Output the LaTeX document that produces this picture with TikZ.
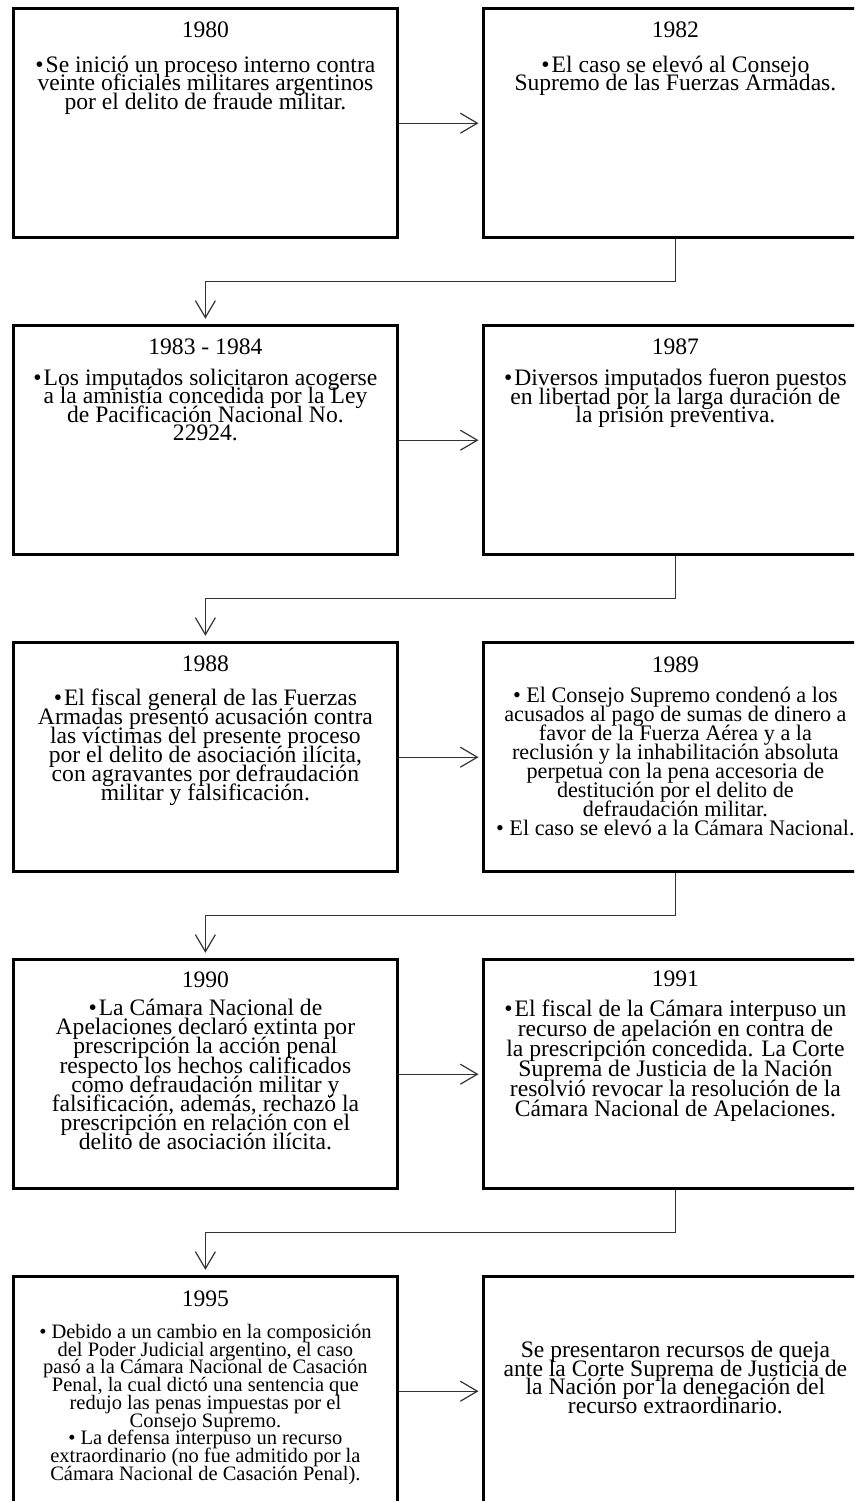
\documentclass[tikz,border=0pt]{standalone}
\usepackage{fontspec}
\setmainfont{Liberation Serif}
\usetikzlibrary{arrows.meta,calc}
\tikzset{
  panel/.style={draw=black, line width=2.8pt, minimum width=384pt, minimum height=229pt,
    inner sep=0pt, anchor=north west},
  yearlbl/.style={anchor=base, inner sep=0pt, font=\fontsize{23.6}{18.5}\selectfont},
  bodytxt/.style n args={2}{anchor=north, inner sep=0pt, align=center,
    font=\fontsize{#1}{#2}\selectfont},
  link/.style={draw=black!80, line width=1.2pt, -{Straight Barb[length=17pt,width=20pt]}},
}
\newcommand{\fl}{\rule{0pt}{17pt}}
\newcommand{\bul}{•\kern2pt}
\begin{document}
\begin{tikzpicture}[x=1pt, y=-1pt]
\lineskiplimit=-50pt
\lineskip=0pt
\useasboundingbox (0,0) rectangle (854,1501);
\clip (0,0) rectangle (854,1501);

% panels: two columns, five rows
\node[panel] (b1)  at (12,7.3)    {};
\node[panel] (b2)  at (482,7.3)   {};
\node[panel] (b3)  at (12,324.3)  {};
\node[panel] (b4)  at (482,324.3) {};
\node[panel] (b5)  at (12,641.3)  {};
\node[panel] (b6)  at (482,641.3) {};
\node[panel] (b7)  at (12,958.3)  {};
\node[panel] (b8)  at (482,958.3) {};
\node[panel] (b9)  at (12,1275.3) {};
\node[panel] (b10) at (482,1275.3) {};

% years
\node[yearlbl] (y1) at ($(b1.north)+(0,30)$) {1980};
\node[yearlbl] (y2) at ($(b2.north)+(0,30)$) {1982};
\node[yearlbl] (y3) at ($(b3.north)+(0,30)$) {1983 - 1984};
\node[yearlbl] (y4) at ($(b4.north)+(0,30)$) {1987};
\node[yearlbl] (y5) at ($(b5.north)+(0,30.5)$) {1988};
\node[yearlbl] (y6) at ($(b6.north)+(0,31.5)$) {1989};
\node[yearlbl] (y7) at ($(b7.north)+(0,29)$) {1990};
\node[yearlbl] (y8) at ($(b8.north)+(0,28.5)$) {1991};
\node[yearlbl] (y9) at ($(b9.north)+(0,31.5)$) {1995};

% texts
\node[bodytxt={23.6}{18.5}] (t1) at ($(b1.north)+(0,48)$)
  {\fl\bul Se inició un proceso interno contra\\
   veinte oficiales militares argentinos\\
   por el delito de fraude militar.};
\node[bodytxt={23.6}{18.5}] (t2) at ($(b2.north)+(0,48)$)
  {\fl\bul El caso se elevó al Consejo\\
   Supremo de las Fuerzas Armadas.};
\node[bodytxt={23.6}{18.3}] (t3) at ($(b3.north)+(0,44)$)
  {\fl\bul Los imputados solicitaron acogerse\\
   a la amnistía concedida por la Ley\\
   de Pacificación Nacional No.\\
   22924.};
\node[bodytxt={23.6}{18.5}] (t4) at ($(b4.north)+(0,44)$)
  {\fl\bul Diversos imputados fueron puestos\\
   en libertad por la larga duración de\\
   la prisión preventiva.};
\node[bodytxt={23.6}{19}] (t5) at ($(b5.north)+(0,47)$)
  {\fl\bul El fiscal general de las Fuerzas\\
   Armadas presentó acusación contra\\
   las víctimas del presente proceso\\
   por el delito de asociación ilícita,\\
   con agravantes por defraudación\\
   militar y falsificación.};
\node[bodytxt={22.2}{19}] (t6) at ($(b6.north)+(0,44)$)
  {\fl• El Consejo Supremo condenó a los\\
   acusados al pago de sumas de dinero a\\
   favor de la Fuerza Aérea y a la\\
   reclusión y la inhabilitación absoluta\\
   perpetua con la pena accesoria de\\
   destitución por el delito de\\
   defraudación militar.\\
   • El caso se elevó a la Cámara Nacional.};
\node[bodytxt={23.6}{19.2}] (t7) at ($(b7.north)+(0,40)$)
  {\fl\bul La Cámara Nacional de\\
   Apelaciones declaró extinta por\\
   prescripción la acción penal\\
   respecto los hechos calificados\\
   como defraudación militar y\\
   falsificación, además, rechazó la\\
   prescripción en relación con el\\
   delito de asociación ilícita.};
\node[bodytxt={23.6}{20}] (t8) at ($(b8.north)+(0,41)$)
  {\fl\bul El fiscal de la Cámara interpuso un\\
   recurso de apelación en contra de\\
   la prescripción concedida. La Corte\\
   Suprema de Justicia de la Nación\\
   resolvió revocar la resolución de la\\
   Cámara Nacional de Apelaciones.};
\node[bodytxt={20.5}{17.7}] (t9) at ($(b9.north)+(0,46)$)
  {\fl• Debido a un cambio en la composición\\
   del Poder Judicial argentino, el caso\\
   pasó a la Cámara Nacional de Casación\\
   Penal, la cual dictó una sentencia que\\
   redujo las penas impuestas por el\\
   Consejo Supremo.\\
   • La defensa interpuso un recurso\\
   extraordinario (no fue admitido por la\\
   Cámara Nacional de Casación Penal).};
\node[bodytxt={23.6}{18.5}] (t10) at ($(b10.north)+(0,65)$)
  {\fl Se presentaron recursos de queja\\
   ante la Corte Suprema de Justicia de\\
   la Nación por la denegación del\\
   recurso extraordinario.};

% connectors within a row
\draw[link, shorten >=3.5pt] (b1.east) -- (b2.west);
\draw[link, shorten >=3.5pt] (b3.east) -- (b4.west);
\draw[link, shorten >=3.5pt] (b5.east) -- (b6.west);
\draw[link, shorten >=3.5pt] (b7.east) -- (b8.west);
\draw[link, shorten >=3.5pt] (b9.east) -- (b10.west);

% connectors between rows
\draw[link, shorten >=5.5pt] (b2.south) |- ($(b2.south)!.5!(b3.north)$) -| (b3.north);
\draw[link, shorten >=5.5pt] (b4.south) |- ($(b4.south)!.5!(b5.north)$) -| (b5.north);
\draw[link, shorten >=5.5pt] (b6.south) |- ($(b6.south)!.5!(b7.north)$) -| (b7.north);
\draw[link, shorten >=5.5pt] (b8.south) |- ($(b8.south)!.5!(b9.north)$) -| (b9.north);
\end{tikzpicture}
\end{document}
